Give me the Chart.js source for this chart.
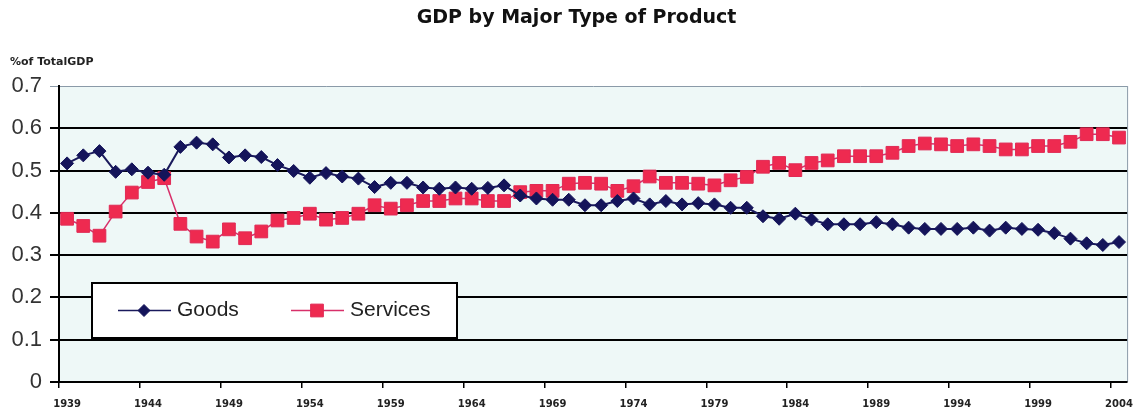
<!DOCTYPE html>
<html>
<head>
<meta charset="utf-8">
<title>GDP by Major Type of Product</title>
<script src="https://cdn.jsdelivr.net/npm/chart.js@4.4.1/dist/chart.umd.min.js"></script>
<style>
  html, body { margin: 0; padding: 0; background: #ffffff; }
  #wrap { width: 1143px; height: 415px; }
</style>
</head>
<body>
<div id="wrap"><canvas id="gdpChart"></canvas></div>
<script>
// share of total GDP, 1939-2004
const years = [];
for (let y = 1939; y <= 2004; y++) years.push(String(y));

const goods = [
  0.517, 0.536, 0.546, 0.497, 0.503, 0.495, 0.490, 0.556, 0.566, 0.562,
  0.531, 0.536, 0.532, 0.513, 0.499, 0.483, 0.494, 0.486, 0.481, 0.461,
  0.471, 0.471, 0.460, 0.457, 0.460, 0.457, 0.459, 0.465, 0.441, 0.434,
  0.431, 0.431, 0.418, 0.418, 0.428, 0.434, 0.420, 0.428, 0.420, 0.423,
  0.420, 0.412, 0.412, 0.392, 0.386, 0.398, 0.384, 0.373, 0.373, 0.373,
  0.378, 0.373, 0.365, 0.362, 0.362, 0.362, 0.365, 0.358, 0.365, 0.362,
  0.360, 0.352, 0.339, 0.328, 0.324, 0.331
];

const services = [
  0.386, 0.369, 0.346, 0.403, 0.448, 0.473, 0.482, 0.374, 0.344, 0.332,
  0.361, 0.340, 0.356, 0.382, 0.388, 0.398, 0.384, 0.388, 0.398, 0.418,
  0.410, 0.418, 0.428, 0.428, 0.434, 0.434, 0.428, 0.428, 0.449, 0.452,
  0.452, 0.469, 0.471, 0.469, 0.452, 0.463, 0.486, 0.471, 0.471, 0.469,
  0.465, 0.477, 0.485, 0.509, 0.518, 0.501, 0.518, 0.524, 0.534, 0.534,
  0.534, 0.542, 0.558, 0.564, 0.562, 0.558, 0.562, 0.558, 0.550, 0.550,
  0.558, 0.558, 0.568, 0.586, 0.586, 0.578
];

const yTicks = [0, 0.1, 0.2, 0.3, 0.4, 0.5, 0.6, 0.7];

// plot background + right border
const plotBackground = {
  id: "plotBackground",
  beforeDraw(chart) {
    const { ctx, chartArea: a } = chart;
    ctx.save();
    ctx.fillStyle = "#eef8f7";
    ctx.fillRect(a.left, a.top, a.right - a.left, a.bottom - a.top);
    ctx.strokeStyle = "#8a9aa8";
    ctx.lineWidth = 1;
    ctx.beginPath();
    ctx.moveTo(a.right + 0.5, a.top);
    ctx.lineTo(a.right + 0.5, a.bottom);
    ctx.stroke();
    ctx.restore();
  },
};

// boxed legend sitting inside the plot, lower left
const boxLegend = {
  id: "boxLegend",
  afterDraw(chart) {
    const { ctx, chartArea: a } = chart;
    const x = a.left + 33, y = a.top + 197, w = 365, h = 55;
    ctx.save();
    ctx.fillStyle = "#ffffff";
    ctx.fillRect(x, y, w, h);
    ctx.strokeStyle = "#000000";
    ctx.lineWidth = 2;
    ctx.strokeRect(x, y, w, h);

    const cy = y + h / 2;
    const slots = [x + 26, x + 199];
    chart.data.datasets.forEach((ds, i) => {
      const lx = slots[i];
      ctx.strokeStyle = ds.borderColor;
      ctx.lineWidth = 1.5;
      ctx.beginPath();
      ctx.moveTo(lx, cy);
      ctx.lineTo(lx + 53, cy);
      ctx.stroke();
      ctx.fillStyle = ds.pointBackgroundColor;
      ctx.strokeStyle = ds.pointBorderColor;
      ctx.lineWidth = 1;
      Chart.helpers.drawPoint(ctx, {
        pointStyle: ds.pointStyle,
        radius: ds.legendRadius,
        rotation: 0,
        borderWidth: 1,
      }, lx + 26, cy);
      ctx.fillStyle = "#222222";
      ctx.font = "21px 'Liberation Sans', Arial, sans-serif";
      ctx.textBaseline = "middle";
      ctx.fillText(ds.label, lx + 59, cy);
    });
    ctx.restore();
  },
};

const ctx = document.getElementById("gdpChart").getContext("2d");
new Chart(ctx, {
  type: "line",
  data: {
    labels: years,
    datasets: [
      {
        label: "Goods",
        data: goods,
        borderColor: "#1a1a5c",
        borderWidth: 2,
        pointStyle: "rectRot",
        pointRadius: 6.5,
        legendRadius: 6,
        pointBackgroundColor: "#14145a",
        pointBorderColor: "#14145a",
        pointBorderWidth: 1,
        tension: 0,
      },
      {
        label: "Services",
        data: services,
        borderColor: "#d8306a",
        borderWidth: 1.5,
        pointStyle: "rect",
        pointRadius: 9,
        legendRadius: 9,
        pointBackgroundColor: "#ee2a50",
        pointBorderColor: "#e02a55",
        pointBorderWidth: 1,
        tension: 0,
      },
    ],
  },
  options: {
    responsive: true,
    maintainAspectRatio: false,
    animation: false,
    layout: { padding: { left: 10, right: 0, top: 0, bottom: -5 } },
    plugins: {
      legend: { display: false },
      tooltip: { enabled: false },
      title: {
        display: true,
        text: "GDP by Major Type of Product",
        color: "#111111",
        font: { family: "'DejaVu Sans', Verdana, sans-serif", size: 19, weight: "bold" },
        padding: { top: 7, bottom: 0 },
      },
      subtitle: {
        display: true,
        text: "%of TotalGDP",
        align: "start",
        color: "#222222",
        font: { family: "'DejaVu Sans', Verdana, sans-serif", size: 11, weight: "bold" },
        padding: { top: 26, bottom: 17 },
      },
    },
    scales: {
      x: {
        type: "category",
        offset: true,
        grid: {
          offset: true,
          drawOnChartArea: false,
          drawTicks: true,
          tickLength: 6,
          color: (c) => (c.index % 5 === 0 ? "#000000" : "rgba(0,0,0,0)"),
          lineWidth: 1.5,
        },
        border: { display: true, color: "#000000", width: 2 },
        ticks: {
          autoSkip: false,
          maxRotation: 0,
          minRotation: 0,
          padding: 10,
          color: "#222222",
          font: { family: "'DejaVu Sans', Verdana, sans-serif", size: 10, weight: "bold" },
          callback: function (v, i) {
            return i % 5 === 0 ? this.getLabelForValue(v) : "";
          },
        },
      },
      y: {
        min: 0,
        max: 0.7,
        afterBuildTicks: (s) => { s.ticks = yTicks.map((v) => ({ value: v })); },
        afterFit: (s) => { s.width = 49; },
        grid: {
          tickLength: 9,
          color: (c) => (c.tick && c.tick.value >= 0.7 ? "#8a9aa8" : "#000000"),
          lineWidth: (c) => (c.tick && c.tick.value >= 0.7 ? 1 : 2),
        },
        border: { display: true, color: "#000000", width: 2 },
        ticks: {
          padding: 8,
          color: "#333333",
          font: { family: "'Liberation Sans', Arial, sans-serif", size: 22 },
          callback: (v) => (v === 0 ? "0" : v.toFixed(1)),
        },
      },
    },
  },
  plugins: [plotBackground, boxLegend],
});
</script>
</body>
</html>
